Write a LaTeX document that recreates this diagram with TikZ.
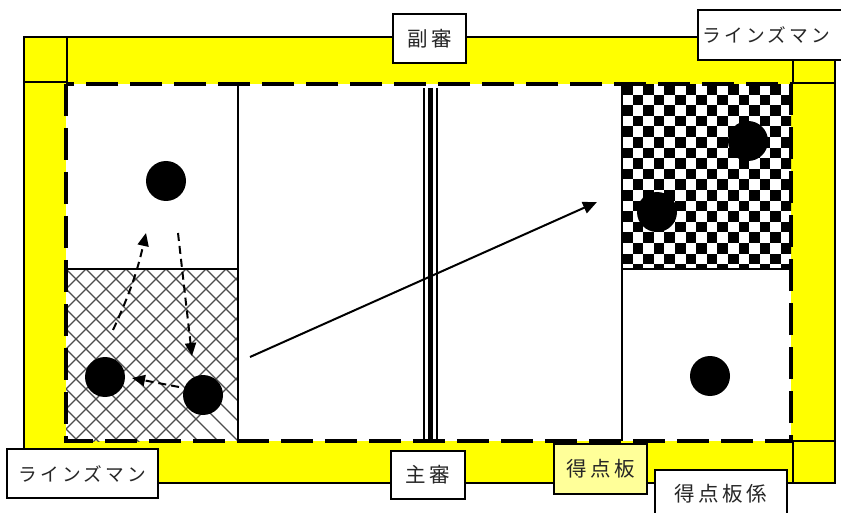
\documentclass[tikz,border=0pt]{standalone}
\usepackage{fontspec}
\newfontfamily\jpfont{Noto Sans CJK JP}
\usetikzlibrary{arrows.meta}
\definecolor{fieldyellow}{RGB}{255,255,0}
\definecolor{paleyellow}{RGB}{255,255,153}
\newcommand\kgap{\hspace{3.5pt}}
\newcommand\ngap{\hspace{3pt}}
\begin{document}
\begin{tikzpicture}[x=1pt,y=-1pt,
  lbl/.style={draw=black, line width=1.6pt, fill=white, inner sep=0pt, text=black!85},
  kanji/.style={font=\jpfont\fontsize{20.5}{20.5}\selectfont},
  kana/.style={font=\jpfont\fontsize{18.7}{18.7}\selectfont},
  ball/.style={circle, fill=black, minimum size=40pt, inner sep=0pt},
  thin/.style={line width=1.2pt},
  dasharrow/.style={line width=2pt, dash pattern=on 8pt off 5pt, -{Triangle[length=13pt,width=11pt]}},
  solidarrow/.style={line width=2pt, -{Triangle[length=14pt,width=12pt]}},
  boundary/.style={line width=4pt, dash pattern=on 32pt off 12pt}]
\clip (0,0) rectangle (841,513);
\fill[white] (0,0) rectangle (841,513);
% outer yellow area
\draw[thin, fill=fieldyellow] (24,37) rectangle (835,483);
\draw[thin] (67,37) -- (67,84);
\draw[thin] (24,82) -- (67,82);
\draw[thin] (793,59) -- (793,84);
\draw[thin] (793,83) -- (835,83);
\draw[thin] (793,441) -- (793,483);
\draw[thin] (793,441) -- (835,441);
% field
\fill[white] (66,84) rectangle (791,441);
% crosshatch
\begin{scope}
  \clip (66,269) rectangle (238,441);
  \foreach \i in {-12,...,14} {
    \draw[black!70, line width=1.2pt] (66+\i*20,269) -- ++(200,200);
    \draw[black!70, line width=1.2pt] (66+\i*20,269) -- ++(-200,200);
  }
\end{scope}
% checkerboard
\begin{scope}
  \clip (622,84) rectangle (791,269);
  \foreach \r in {0,...,17} {
    \foreach \c in {0,2,...,16} {
      \pgfmathsetmacro\xx{622+(\c+mod(\r,2))*10.6}
      \pgfmathsetmacro\yy{84+\r*10.6}
      \fill[black] (\xx,\yy) rectangle ++(10.6,10.6);
    }
  }
\end{scope}
% zone lines
\draw[thin] (238,84) -- (238,441);
\draw[thin] (622,84) -- (622,441);
\draw[line width=1.6pt] (66,269) -- (238,269);
\draw[line width=1.6pt] (622,269) -- (791,269);
% dashed boundary
\draw[boundary] (66,84) rectangle (791,441);
% centre line
\draw[line width=2.5pt] (424,88) -- (424,443);
\draw[line width=4.5pt] (430.5,88) -- (430.5,443);
\draw[line width=2.3pt] (437,88) -- (437,443);
% balls
\node[ball] (b1) at (166,181) {};
\node[ball] (b2) at (105,377) {};
\node[ball] (b3) at (203,395) {};
\node[ball] (b4) at (748,141) {};
\node[ball] (b5) at (657,212) {};
\node[ball] (b6) at (710,376) {};
% arrows
\coordinate (a1s) at (113,330);
\coordinate (a1e) at (146,233);
\coordinate (a2s) at (178,233);
\coordinate (a2e) at (192,356);
\coordinate (a3s) at (179,387);
\coordinate (a3e) at (132,378);
\coordinate (s1s) at (250,357);
\coordinate (s1e) at (597,202);
\draw[dasharrow] (a1s) to[bend right=6] (a1e);
\draw[dasharrow] (a2s) -- (a2e);
\draw[dasharrow] (a3s) -- (a3e);
\draw[solidarrow] (s1s) -- (s1e);
% labels
\node[lbl, kanji, minimum width=73pt, minimum height=49pt] (fukushin) at (429.5,38.5) {副\kgap 審};
\node[lbl, kana, anchor=north west, minimum height=50pt, text width=155pt, inner xsep=5pt, align=left] (lineTR) at (697,9) {ラ\ngap イ\ngap ン\ngap ズ\ngap マ\ngap ン};
\node[lbl, kana, minimum width=151pt, minimum height=49pt] (lineBL) at (82.5,473.5) {ラ\ngap イ\ngap ン\ngap ズ\ngap マ\ngap ン};
\node[lbl, kanji, minimum width=74pt, minimum height=48pt] (shushin) at (428,475) {主\kgap 審};
\node[lbl, kanji, fill=paleyellow, minimum width=93pt, minimum height=50pt] (board) at (600.5,469) {得\kgap 点\kgap 板};
\node[lbl, kanji, anchor=north, minimum width=132pt, minimum height=48pt] (keeper) at (721,469) {得\kgap 点\kgap 板\kgap 係};
\end{tikzpicture}
\end{document}
